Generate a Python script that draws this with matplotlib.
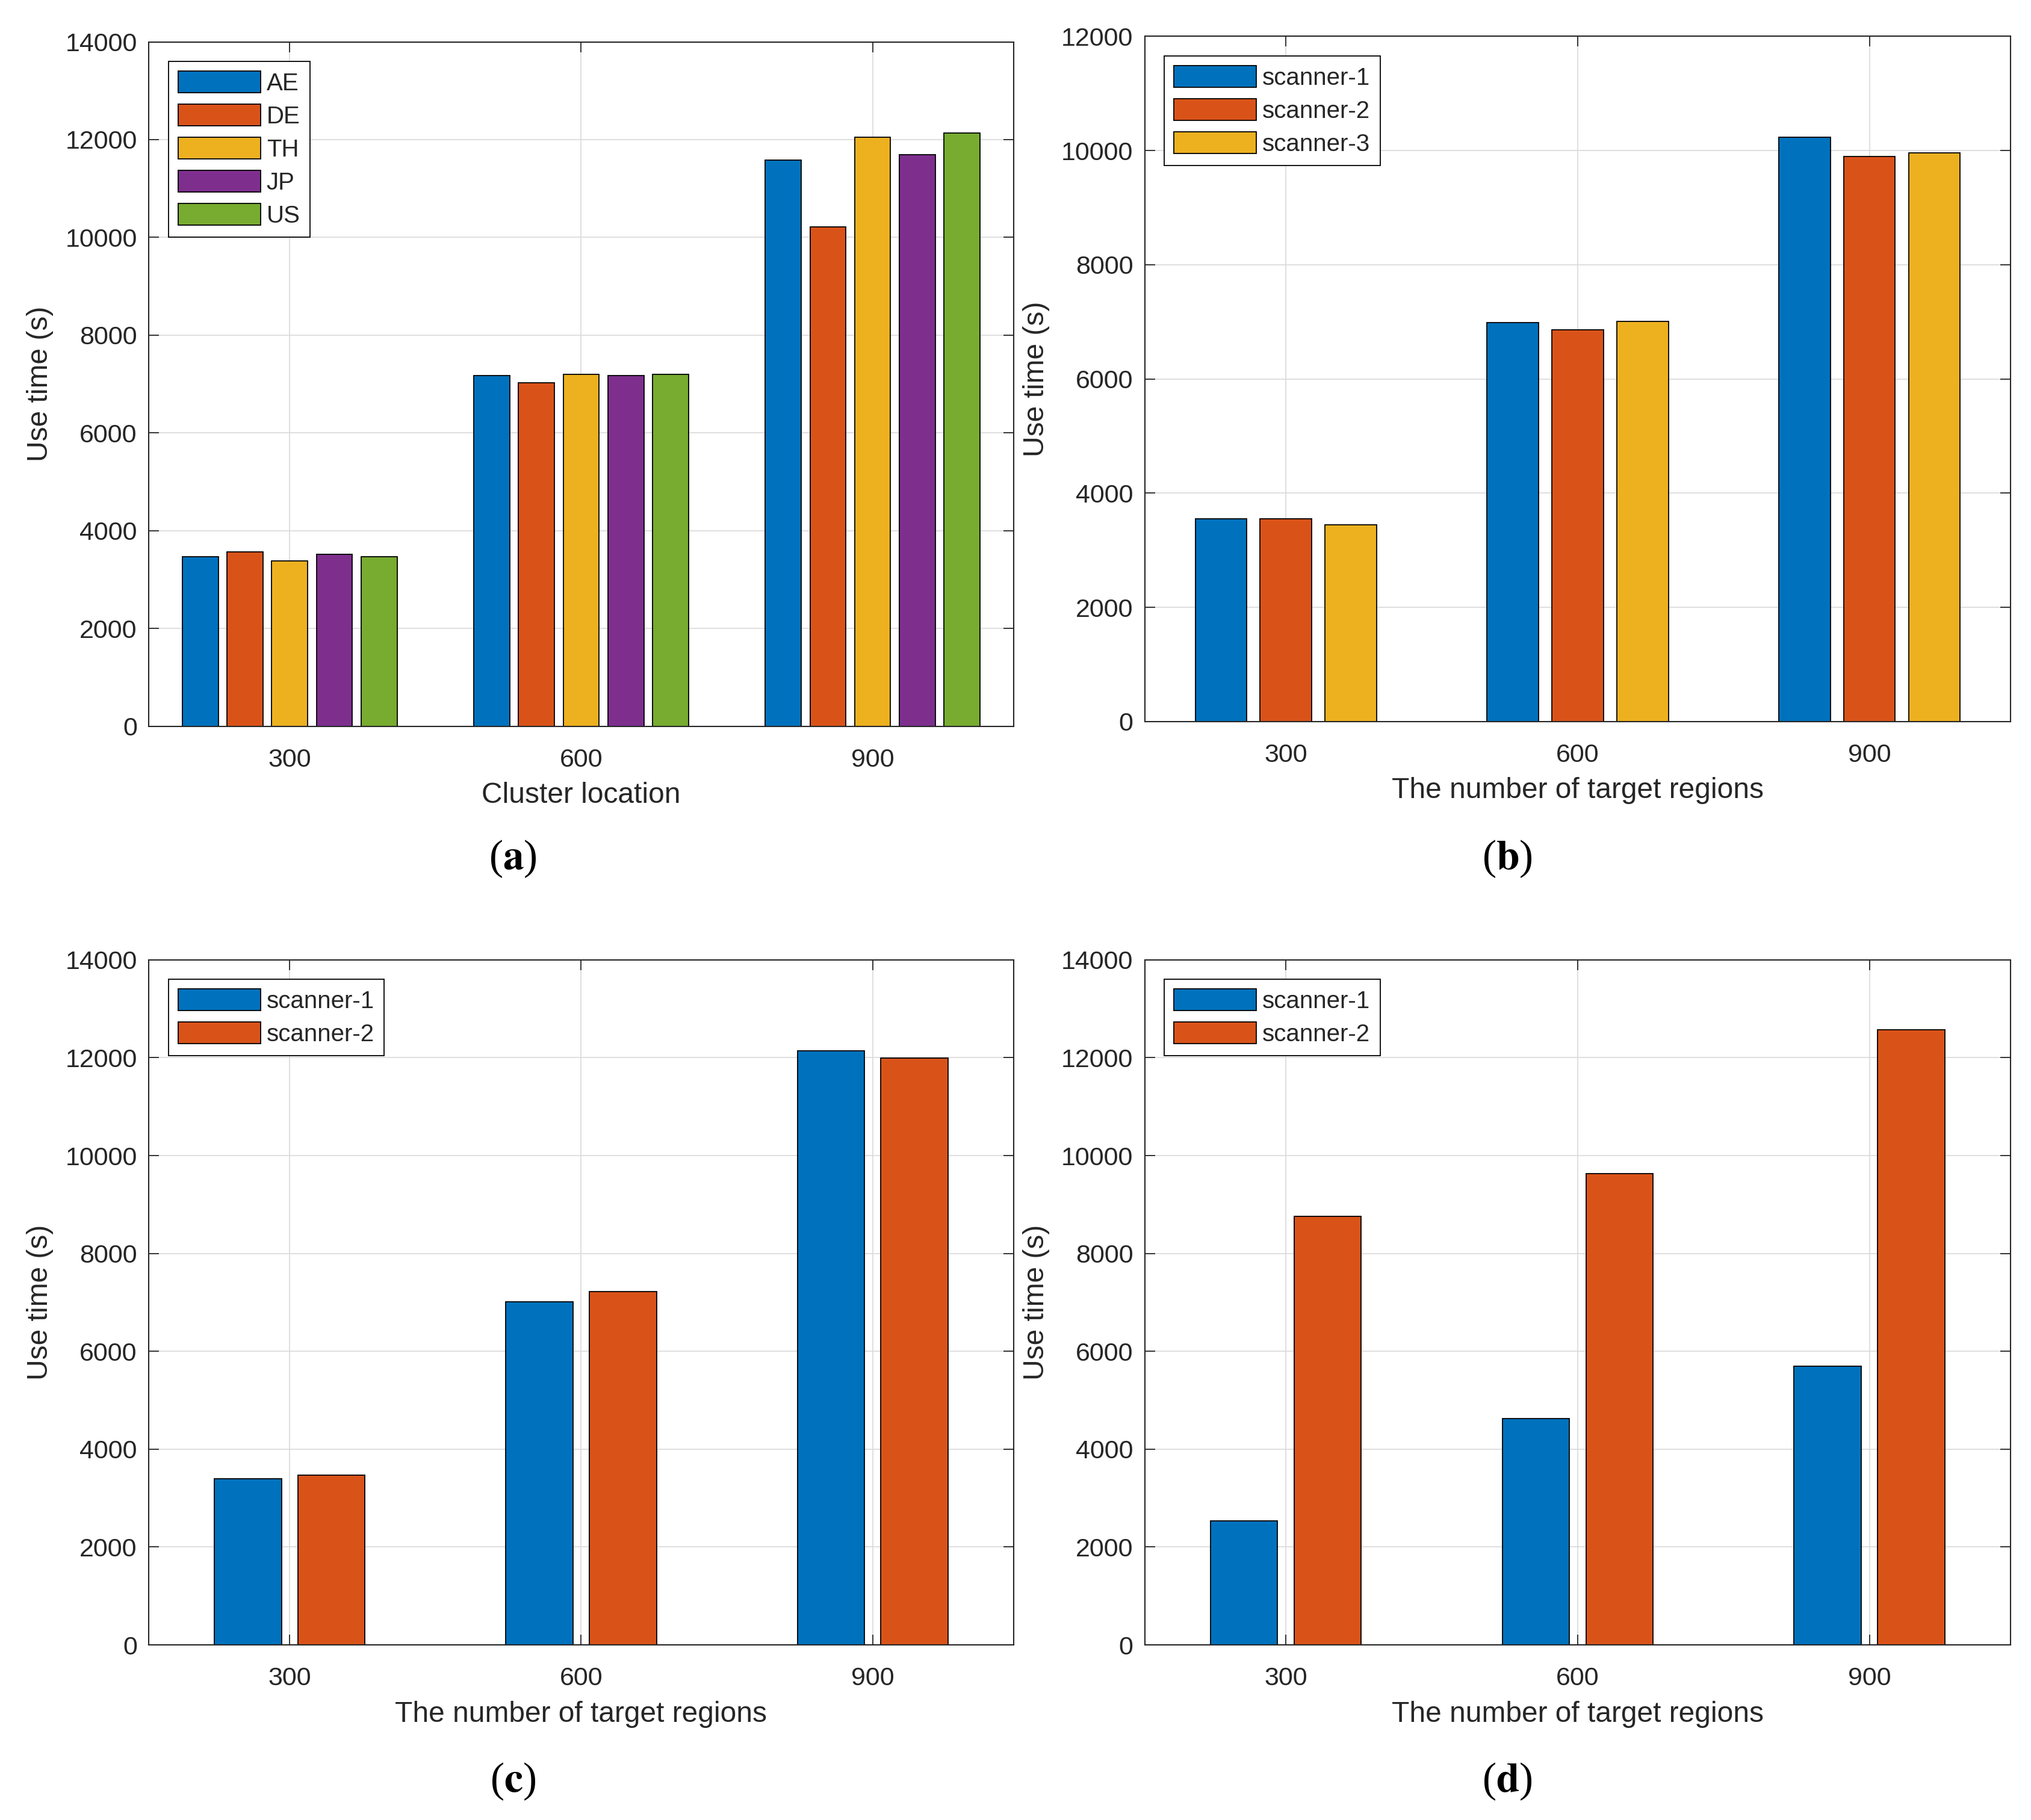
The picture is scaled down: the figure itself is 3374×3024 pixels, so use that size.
import numpy as np
import matplotlib
matplotlib.use('Agg')
import matplotlib.pyplot as plt

# MATLAB-ish default colours
colors = ['#0072BD', '#D95319', '#EDB120', '#7E2F8E', '#77AC30']

groups = [300, 600, 900]

# panel (a): cluster locations
a_labels = ['AE', 'DE', 'TH', 'JP', 'US']
a_AE = [3470, 7170, 11580]
a_DE = [3560, 7020, 10210]
a_TH = [3380, 7200, 12050]
a_JP = [3520, 7170, 11690]
a_US = [3470, 7200, 12130]

# panel (b): three scanners
b_labels = ['scanner-1', 'scanner-2', 'scanner-3']
b_s1 = [3550, 6990, 10230]
b_s2 = [3550, 6860, 9900]
b_s3 = [3440, 7010, 9960]

# panel (c): two scanners
c_labels = ['scanner-1', 'scanner-2']
c_s1 = [3390, 7010, 12140]
c_s2 = [3470, 7220, 11990]

# panel (d): two scanners
d_labels = ['scanner-1', 'scanner-2']
d_s1 = [2540, 4620, 5700]
d_s2 = [8760, 9630, 12570]

xlabels = ['Cluster location', 'The number of target regions',
           'The number of target regions', 'The number of target regions']
captions = ['a', 'b', 'c', 'd']

plt.rcParams['font.family'] = ['Liberation Sans', 'DejaVu Sans']
plt.rcParams['mathtext.fontset'] = 'stix'

TXT = '#262626'


def draw_panel(ax, series, labels, step, width, ymax, xlabel):
    n = len(series)
    x = np.array(groups, dtype=float)
    for i, vals in enumerate(series):
        off = (i - (n - 1) / 2.0) * step
        ax.bar(x + off, vals, width=width, color=colors[i], edgecolor='black',
               linewidth=1.3, label=labels[i], zorder=2)
    ax.set_xlim(155, 1045)
    ax.set_ylim(0, ymax)
    ax.set_xticks(groups)
    ax.set_xticklabels([str(g) for g in groups])
    ax.set_yticks(np.arange(0, ymax + 1, 2000))
    ax.grid(True, color='#dcdcdc', linewidth=1.3)
    ax.set_axisbelow(True)
    ax.tick_params(direction='in', length=12, width=1.3, top=True, right=True,
                   labelsize=31, colors=TXT, pad=14)
    ax.tick_params(axis='x', pad=26)
    for sp in ax.spines.values():
        sp.set_color(TXT)
        sp.set_linewidth(1.5)
    ax.set_xlabel(xlabel, fontsize=34.5, color=TXT, labelpad=12)
    ax.set_ylabel('Use time (s)', fontsize=34.5, color=TXT, labelpad=14)
    leg = ax.legend(loc='upper left', fontsize=29, handlelength=3.4,
                    handleheight=1.0, labelspacing=0.38, handletextpad=0.25,
                    borderpad=0.4, borderaxespad=0.8, fancybox=False,
                    framealpha=1, edgecolor='black')
    leg.get_frame().set_linewidth(1.3)
    for t in leg.get_texts():
        t.set_color(TXT)


fig = plt.figure(figsize=(33.74, 30.24), dpi=100)

ax_a = fig.add_axes([0.0733, 0.601, 0.4257, 0.376])
ax_b = fig.add_axes([0.5637, 0.6036, 0.4262, 0.3764])
ax_c = fig.add_axes([0.0733, 0.0962, 0.4257, 0.3764])
ax_d = fig.add_axes([0.5637, 0.0962, 0.4262, 0.3764])

draw_panel(ax_a, [a_AE, a_DE, a_TH, a_JP, a_US], a_labels, 46, 37, 14000, xlabels[0])
draw_panel(ax_b, [b_s1, b_s2, b_s3], b_labels, 66.7, 53, 12000, xlabels[1])
draw_panel(ax_c, [c_s1, c_s2], c_labels, 86, 69, 14000, xlabels[2])
draw_panel(ax_d, [d_s1, d_s2], d_labels, 86, 69, 14000, xlabels[3])

cap_pos = [(0.2526, 0.528), (0.742, 0.528), (0.2526, 0.021), (0.742, 0.021)]
for (cx, cy), c in zip(cap_pos, captions):
    fig.text(cx, cy, r'($\mathbf{%s}$)' % c, fontsize=50, family='Liberation Serif',
             ha='center', va='center', color='black')

fig.savefig('out.png', dpi=100)
